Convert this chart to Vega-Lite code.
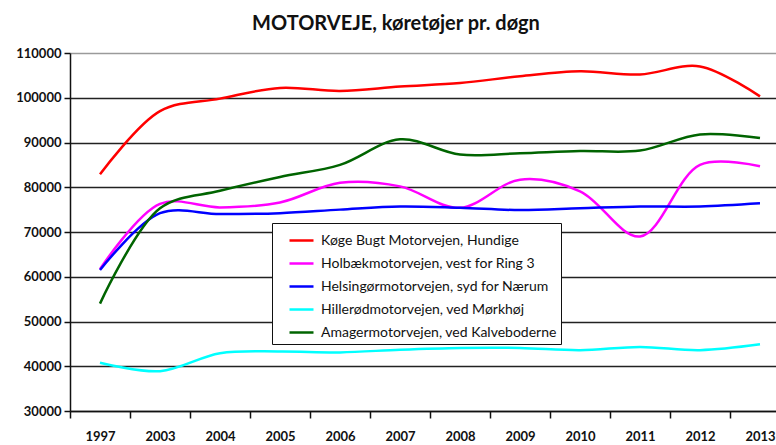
{
  "$schema": "https://vega.github.io/schema/vega-lite/v6.json",
  "autosize": "none",
  "padding": {"left": 70, "top": 53, "right": 0, "bottom": 34},
  "width": 720,
  "height": 358,
  "background": "white",
  "title": {"text": "MOTORVEJE, køretøjer pr. døgn", "fontSize": 20, "font": "Lato", "fontWeight": "bold", "color": "#111", "anchor": "middle", "dx": -34, "offset": 13},
  "data": {"values": [
    {"year": "1997", "road": "Køge Bugt Motorvejen, Hundige", "value": 82900},
    {"year": "2003", "road": "Køge Bugt Motorvejen, Hundige", "value": 97000},
    {"year": "2004", "road": "Køge Bugt Motorvejen, Hundige", "value": 99800},
    {"year": "2005", "road": "Køge Bugt Motorvejen, Hundige", "value": 102200},
    {"year": "2006", "road": "Køge Bugt Motorvejen, Hundige", "value": 101500},
    {"year": "2007", "road": "Køge Bugt Motorvejen, Hundige", "value": 102500},
    {"year": "2008", "road": "Køge Bugt Motorvejen, Hundige", "value": 103300},
    {"year": "2009", "road": "Køge Bugt Motorvejen, Hundige", "value": 104800},
    {"year": "2010", "road": "Køge Bugt Motorvejen, Hundige", "value": 105900},
    {"year": "2011", "road": "Køge Bugt Motorvejen, Hundige", "value": 105200},
    {"year": "2012", "road": "Køge Bugt Motorvejen, Hundige", "value": 107000},
    {"year": "2013", "road": "Køge Bugt Motorvejen, Hundige", "value": 100300},
    {"year": "1997", "road": "Holbækmotorvejen, vest for Ring 3", "value": 61700},
    {"year": "2003", "road": "Holbækmotorvejen, vest for Ring 3", "value": 76300},
    {"year": "2004", "road": "Holbækmotorvejen, vest for Ring 3", "value": 75500},
    {"year": "2005", "road": "Holbækmotorvejen, vest for Ring 3", "value": 76600},
    {"year": "2006", "road": "Holbækmotorvejen, vest for Ring 3", "value": 81000},
    {"year": "2007", "road": "Holbækmotorvejen, vest for Ring 3", "value": 80200},
    {"year": "2008", "road": "Holbækmotorvejen, vest for Ring 3", "value": 75400},
    {"year": "2009", "road": "Holbækmotorvejen, vest for Ring 3", "value": 81700},
    {"year": "2010", "road": "Holbækmotorvejen, vest for Ring 3", "value": 79100},
    {"year": "2011", "road": "Holbækmotorvejen, vest for Ring 3", "value": 69000},
    {"year": "2012", "road": "Holbækmotorvejen, vest for Ring 3", "value": 85000},
    {"year": "2013", "road": "Holbækmotorvejen, vest for Ring 3", "value": 84700},
    {"year": "1997", "road": "Helsingørmotorvejen, syd for Nærum", "value": 61500},
    {"year": "2003", "road": "Helsingørmotorvejen, syd for Nærum", "value": 74200},
    {"year": "2004", "road": "Helsingørmotorvejen, syd for Nærum", "value": 74000},
    {"year": "2005", "road": "Helsingørmotorvejen, syd for Nærum", "value": 74200},
    {"year": "2006", "road": "Helsingørmotorvejen, syd for Nærum", "value": 75000},
    {"year": "2007", "road": "Helsingørmotorvejen, syd for Nærum", "value": 75700},
    {"year": "2008", "road": "Helsingørmotorvejen, syd for Nærum", "value": 75400},
    {"year": "2009", "road": "Helsingørmotorvejen, syd for Nærum", "value": 74900},
    {"year": "2010", "road": "Helsingørmotorvejen, syd for Nærum", "value": 75300},
    {"year": "2011", "road": "Helsingørmotorvejen, syd for Nærum", "value": 75700},
    {"year": "2012", "road": "Helsingørmotorvejen, syd for Nærum", "value": 75700},
    {"year": "2013", "road": "Helsingørmotorvejen, syd for Nærum", "value": 76400},
    {"year": "1997", "road": "Hillerødmotorvejen, ved Mørkhøj", "value": 40800},
    {"year": "2003", "road": "Hillerødmotorvejen, ved Mørkhøj", "value": 38900},
    {"year": "2004", "road": "Hillerødmotorvejen, ved Mørkhøj", "value": 42900},
    {"year": "2005", "road": "Hillerødmotorvejen, ved Mørkhøj", "value": 43300},
    {"year": "2006", "road": "Hillerødmotorvejen, ved Mørkhøj", "value": 43100},
    {"year": "2007", "road": "Hillerødmotorvejen, ved Mørkhøj", "value": 43700},
    {"year": "2008", "road": "Hillerødmotorvejen, ved Mørkhøj", "value": 44100},
    {"year": "2009", "road": "Hillerødmotorvejen, ved Mørkhøj", "value": 44100},
    {"year": "2010", "road": "Hillerødmotorvejen, ved Mørkhøj", "value": 43600},
    {"year": "2011", "road": "Hillerødmotorvejen, ved Mørkhøj", "value": 44300},
    {"year": "2012", "road": "Hillerødmotorvejen, ved Mørkhøj", "value": 43600},
    {"year": "2013", "road": "Hillerødmotorvejen, ved Mørkhøj", "value": 44900},
    {"year": "1997", "road": "Amagermotorvejen, ved Kalveboderne", "value": 54000},
    {"year": "2003", "road": "Amagermotorvejen, ved Kalveboderne", "value": 75300},
    {"year": "2004", "road": "Amagermotorvejen, ved Kalveboderne", "value": 79200},
    {"year": "2005", "road": "Amagermotorvejen, ved Kalveboderne", "value": 82300},
    {"year": "2006", "road": "Amagermotorvejen, ved Kalveboderne", "value": 85000},
    {"year": "2007", "road": "Amagermotorvejen, ved Kalveboderne", "value": 90700},
    {"year": "2008", "road": "Amagermotorvejen, ved Kalveboderne", "value": 87300},
    {"year": "2009", "road": "Amagermotorvejen, ved Kalveboderne", "value": 87600},
    {"year": "2010", "road": "Amagermotorvejen, ved Kalveboderne", "value": 88100},
    {"year": "2011", "road": "Amagermotorvejen, ved Kalveboderne", "value": 88200},
    {"year": "2012", "road": "Amagermotorvejen, ved Kalveboderne", "value": 91800},
    {"year": "2013", "road": "Amagermotorvejen, ved Kalveboderne", "value": 91000}
  ]},
  "mark": {"type": "line", "interpolate": "catmull-rom", "strokeWidth": 2.5},
  "encoding": {
    "x": {"field": "year", "type": "ordinal", "bandPosition": 0.5,
      "scale": {"type": "band", "paddingInner": 0, "paddingOuter": 0},
      "axis": {"title": null, "labelAngle": 0, "tickBand": "extent", "grid": false, "domainColor": "#111", "domainWidth": 1.5, "tickColor": "#111", "tickWidth": 1.5, "tickSize": 7, "labelPadding": 12, "labelFont": "Lato", "labelFontSize": 13, "labelFontWeight": "bold", "labelColor": "#111"}},
    "y": {"field": "value", "type": "quantitative",
      "scale": {"domain": [30000, 110000], "nice": false},
      "axis": {"title": null, "values": [30000, 40000, 50000, 60000, 70000, 80000, 90000, 100000, 110000], "format": "d", "grid": true,
        "gridColor": {"condition": {"test": "datum.value == 110000", "value": "#9a9a9a"}, "value": "#222"},
        "gridWidth": 1.5, "domainColor": "#111", "domainWidth": 1.5, "tickColor": "#111", "tickWidth": 1.5, "tickSize": 6, "labelPadding": 3, "labelFont": "Lato", "labelFontSize": 13, "labelFontWeight": "bold", "labelColor": "#111"}},
    "color": {"field": "road", "type": "nominal", "sort": null,
      "scale": {"domain": ["Køge Bugt Motorvejen, Hundige", "Holbækmotorvejen, vest for Ring 3", "Helsingørmotorvejen, syd for Nærum", "Hillerødmotorvejen, ved Mørkhøj", "Amagermotorvejen, ved Kalveboderne"],
        "range": ["#ff0000", "#ff00ff", "#0000ff", "#00ffff", "#006400"]},
      "legend": {"title": null, "orient": "none", "legendX": 202, "legendY": 170, "fillColor": "white", "strokeColor": "#111", "padding": 4, "symbolOffset": 12, "symbolType": "stroke", "symbolStrokeWidth": 2.5, "symbolSize": 576, "labelOffset": 6, "rowPadding": 2, "labelFont": "Lato", "labelFontSize": 14, "labelColor": "#111", "labelLimit": 320}}
  },
  "config": {"view": {"stroke": null}}
}
